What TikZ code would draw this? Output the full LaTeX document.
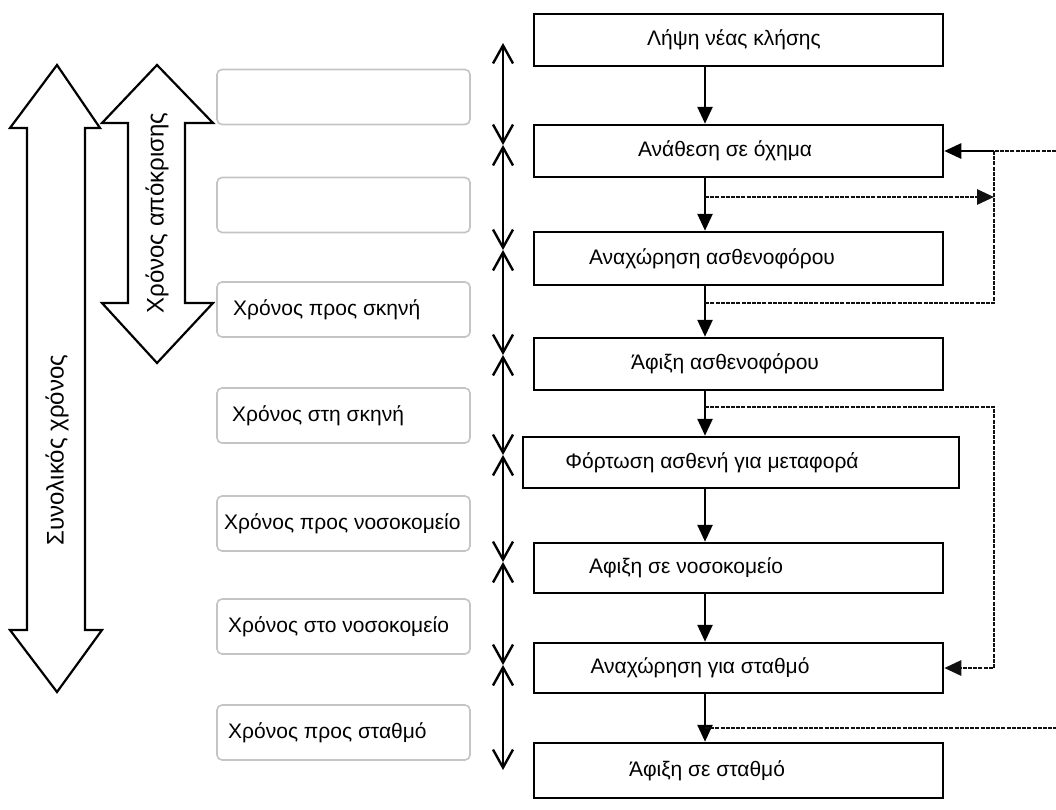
\documentclass[tikz,border=0pt]{standalone}
\usepackage{fontspec}
\setmainfont{Liberation Sans}
\usetikzlibrary{arrows.meta,calc}
\definecolor{dashgray}{HTML}{111111}
\definecolor{roundgray}{HTML}{C4C4C4}
\begin{document}
\begin{tikzpicture}[x=1pt,y=-1pt,
  font=\fontsize{21}{24}\selectfont,
  mainbox/.style={draw, line width=2.5pt, inner sep=0pt},
  sidebox/.style={draw=roundgray, line width=1.6pt, rounded corners=5pt, inner sep=0pt, minimum width=253pt, minimum height=55pt},
  txt/.style={inner sep=0pt},
  bigtxt/.style={inner sep=0pt, font=\fontsize{24}{28}\selectfont},
  flow/.style={line width=2.6pt, -{Triangle[length=17pt,width=15pt]}},
  dline/.style={line width=2.8pt, color=dashgray, dash pattern=on 4pt off 1.2pt},
  darr/.style={dline, -{Triangle[length=17pt,width=15pt]}},
  axisseg/.style={line width=2.6pt, {Straight Barb[length=18pt,width=20pt,line width=2.4pt]}-{Straight Barb[length=18pt,width=20pt,line width=2.4pt]}},
  bigarrow/.style={draw, line width=2.2pt, fill=white, line join=miter}
]
\useasboundingbox (0,0) rectangle (1056,809);

% ---- big hollow arrows on the left ----
\draw[bigarrow] (57,65) -- (100,128) -- (85,128) -- (85,630) -- (102,630) -- (57,692) -- (10,630) -- (27,630) -- (27,128) -- (10,128) -- cycle;
\draw[bigarrow] (157,65) -- (213,123) -- (185,123) -- (185,303) -- (213,303) -- (157,363) -- (102,303) -- (128,303) -- (128,123) -- (102,123) -- cycle;
\node[bigtxt, rotate=90] (tot) at (57,450) {Συνολικός χρόνος};
\node[bigtxt, rotate=90] (resp) at (157,213) {Χρόνος απόκρισης};

% ---- side boxes ----
\node[sidebox] (s1) at (343.5,97) {};
\node[sidebox] (s2) at (343.5,205) {};
\node[sidebox] (s3) at (343.5,309.5) {};
\node[sidebox] (s4) at (343.5,415.5) {};
\node[sidebox] (s5) at (343.5,523.5) {};
\node[sidebox] (s6) at (343.5,626.5) {};
\node[sidebox] (s7) at (343.5,732.5) {};
\node[txt, anchor=west] (s3t) at (233,309.5) {Χρόνος προς σκηνή};
\node[txt, anchor=west] (s4t) at (232,415.5) {Χρόνος στη σκηνή};
\node[txt, anchor=west] (s5t) at (224,523.5) {Χρόνος προς νοσοκομείο};
\node[txt, anchor=west] (s6t) at (228,626.5) {Χρόνος στο νοσοκομείο};
\node[txt, anchor=west] (s7t) at (228,732.5) {Χρόνος προς σταθμό};

% ---- time axis ----
\coordinate (t0) at (503,43);
\coordinate (t1) at (503,145);
\coordinate (t2) at (503,250);
\coordinate (t3) at (503,355);
\coordinate (t4) at (503,455);
\coordinate (t5) at (503,562);
\coordinate (t6) at (503,665);
\coordinate (t7) at (503,770);
\foreach \a/\b in {t0/t1,t1/t2,t2/t3,t3/t4,t4/t5,t5/t6,t6/t7}
  \draw[axisseg] (\a) -- (\b);

% ---- main boxes ----
\node[mainbox, minimum width=409pt, minimum height=52pt] (b1) at (738.5,40) {};
\node[mainbox, minimum width=409pt, minimum height=52pt] (b2) at (738.5,151) {};
\node[mainbox, minimum width=409pt, minimum height=53pt] (b3) at (738.5,258.5) {};
\node[mainbox, minimum width=409pt, minimum height=52pt] (b4) at (738.5,364) {};
\node[mainbox, minimum width=436pt, minimum height=51pt] (b5) at (741,462.5) {};
\node[mainbox, minimum width=409pt, minimum height=50pt] (b6) at (738.5,568) {};
\node[mainbox, minimum width=409pt, minimum height=50pt] (b7) at (738.5,668) {};
\node[mainbox, minimum width=409pt, minimum height=55pt] (b8) at (738.5,770.5) {};
\node[txt] (b1t) at (734,40) {Λήψη νέας κλήσης};
\node[txt] (b2t) at (725,151) {Ανάθεση σε όχημα};
\node[txt] (b3t) at (712,258.5) {Αναχώρηση ασθενοφόρου};
\node[txt] (b4t) at (725,364) {Άφιξη ασθενοφόρου};
\node[txt] (b5t) at (712,462.5) {Φόρτωση ασθενή για μεταφορά};
\node[txt] (b6t) at (686,568) {Αφιξη σε νοσοκομείο};
\node[txt] (b7t) at (700,668) {Αναχώρηση για σταθμό};
\node[txt] (b8t) at (707,770.5) {Άφιξη σε σταθμό};

% ---- main flow ----
\coordinate (fx) at (705,0);
\foreach \a/\b in {b1/b2,b2/b3,b3/b4,b4/b5,b5/b6,b6/b7,b7/b8}
  \draw[flow] (\a.south -| fx) -- (\b.north -| fx);

% ---- dashed side connectors ----
\coordinate (rx) at (994,0);
\coordinate (edge) at (1056,0);
\coordinate (j1) at (705,197);
\coordinate (j2) at (705,303);
\coordinate (j3) at (705,407);
\coordinate (j4) at (705,728);
\coordinate (k1) at (994,151);
% into "Ανάθεση σε όχημα"
\draw[dline] (k1 -| edge) -- (k1);
\draw[line width=2.6pt, -{Triangle[length=17pt,width=15pt]}] (k1) -- (b2.east);
\draw[dline] (k1) -- (j2 -| rx) -- (j2);
\draw[darr] (j1) -- (j1 -| rx);
% into "Αναχώρηση για σταθμό"
\draw[darr] (j3) -- (j3 -| rx) -- (b7.east -| rx) -- (b7.east);
% out to the right edge
\draw[dline] (j4) -- (j4 -| edge);
\end{tikzpicture}
\end{document}
